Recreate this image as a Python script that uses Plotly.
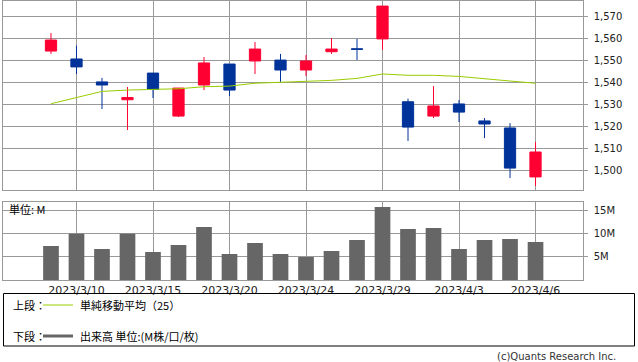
import plotly.graph_objects as go

W, H = 638, 362

dates = ["2023/3/9", "2023/3/10", "2023/3/13", "2023/3/14", "2023/3/15", "2023/3/16",
         "2023/3/17", "2023/3/20", "2023/3/22", "2023/3/23", "2023/3/24", "2023/3/27",
         "2023/3/28", "2023/3/29", "2023/3/30", "2023/3/31", "2023/4/3", "2023/4/4",
         "2023/4/5", "2023/4/6"]
open_ = [1554.1, 1550.5, 1540.1, 1532.0, 1544.1, 1524.6, 1538.7, 1548.2, 1549.6, 1550.0,
         1545.5, 1553.8, 1555.1, 1559.6, 1531.1, 1524.6, 1530.1, 1522.4, 1519.2, 1497.0]
high = [1562.3, 1556.5, 1541.9, 1537.8, 1544.1, 1537.3, 1551.4, 1548.2, 1558.2, 1552.8,
        1552.3, 1560.0, 1559.6, 1574.5, 1532.5, 1538.2, 1531.9, 1523.7, 1521.4, 1512.8]
low = [1552.8, 1543.7, 1527.8, 1518.3, 1532.8, 1524.2, 1536.4, 1533.7, 1543.7, 1540.1,
       1542.8, 1552.8, 1550.0, 1554.6, 1513.3, 1523.7, 1521.9, 1514.6, 1496.5, 1492.9]
close = [1559.1, 1546.9, 1538.7, 1533.0, 1536.7, 1537.3, 1548.7, 1536.4, 1555.0, 1545.5,
         1549.6, 1555.0, 1554.9, 1574.5, 1519.6, 1529.2, 1526.4, 1521.0, 1501.0, 1508.3]
sma25 = [1530.2, 1533.1, 1535.8, 1536.4, 1536.7, 1537.0, 1537.9, 1538.2, 1539.5, 1539.9,
         1540.4, 1540.8, 1541.7, 1543.7, 1543.1, 1543.1, 1542.6, 1541.7, 1540.5, 1539.5]
volume = [7.37e6, 10.0e6, 6.72e6, 10.0e6, 6.08e6, 7.59e6, 11.47e6, 5.65e6, 8.02e6, 5.65e6,
          5.0e6, 6.29e6, 8.66e6, 15.78e6, 11.03e6, 11.25e6, 6.72e6, 8.66e6, 8.88e6, 8.23e6]

tick_dates = ["2023/3/10", "2023/3/15", "2023/3/20", "2023/3/24", "2023/3/29", "2023/4/3", "2023/4/6"]
price_ticks = [1500, 1510, 1520, 1530, 1540, 1550, 1560, 1570]
vol_ticks = [5e6, 10e6, 15e6]
vol_labels = ["5M", "10M", "15M"]

RED = "#FF0033"
BLUE = "#003399"
GREEN = "#99CC00"
GRID = "#999999"
BARC = "#666666"
FONT = "DejaVu Sans"
JFONT = "Noto Sans CJK JP"


def px(x):
    return x / W


def py(y):
    return 1 - y / H


fig = go.Figure()
fig.add_trace(go.Candlestick(
    x=dates, open=open_, high=high, low=low, close=close,
    increasing=dict(line=dict(color=RED, width=1), fillcolor=RED),
    decreasing=dict(line=dict(color=BLUE, width=1), fillcolor=BLUE),
    whiskerwidth=0, xaxis="x", yaxis="y", showlegend=False, hoverinfo="skip"))
fig.add_trace(go.Scatter(
    x=dates, y=sma25, mode="lines", line=dict(color=GREEN, width=1),
    xaxis="x", yaxis="y", showlegend=False, hoverinfo="skip"))
fig.add_trace(go.Bar(
    x=dates, y=volume, marker=dict(color=BARC, line=dict(width=0)),
    xaxis="x2", yaxis="y2", showlegend=False, hoverinfo="skip"))

xrange = [-1.87, 20.85]
common_x = dict(type="category", range=xrange, tickvals=tick_dates, ticktext=tick_dates,
                showgrid=True, gridcolor=GRID, gridwidth=1, showline=True, linecolor=GRID,
                linewidth=1, mirror=True, ticks="", zeroline=False,
                domain=[px(3.3), px(582.7)], fixedrange=True)

common_y = dict(side="right", showgrid=True, gridcolor=GRID, showline=True, linecolor=GRID,
                mirror=True, ticks="outside", ticklen=4, tickcolor=GRID, tickwidth=1,
                zeroline=False, ticklabelstandoff=4,
                tickfont=dict(family=FONT, size=10, color="#222222"), fixedrange=True)

fig.update_layout(
    width=W, height=H, margin=dict(l=0, r=0, t=0, b=0),
    paper_bgcolor="white", plot_bgcolor="white",
    boxgap=0.37, bargap=0.385,
    xaxis=dict(common_x, anchor="y", showticklabels=False, rangeslider=dict(visible=False)),
    xaxis2=dict(common_x, anchor="y2", matches="x", showticklabels=True,
                tickfont=dict(family=FONT, size=11, color="#222222")),
    yaxis=dict(common_y, domain=[py(190.3), py(0.5)], range=[1490.93, 1577.03],
               tickvals=price_ticks, tickformat=",", anchor="x"),
    yaxis2=dict(common_y, domain=[py(280.2), py(201.7)], range=[0, 16.9e6],
                tickvals=vol_ticks, ticktext=vol_labels, anchor="x2"),
    showlegend=False,
)

shapes = [
    dict(type="rect", xref="paper", yref="paper", x0=px(3.5), x1=px(634.5), y0=py(346), y1=py(293.5),
         line=dict(color="#000000", width=1), fillcolor="rgba(0,0,0,0)"),
    dict(type="line", xref="paper", yref="paper", x0=px(43), x1=px(73), y0=py(305), y1=py(305),
         line=dict(color=GREEN, width=1)),
    dict(type="line", xref="paper", yref="paper", x0=px(43), x1=px(73), y0=py(336), y1=py(336),
         line=dict(color=BARC, width=3)),
]
fig.update_layout(shapes=shapes)

anns = [
    dict(text="単位: M", x=px(7), y=py(209), xanchor="left", yanchor="middle",
         font=dict(family=JFONT, size=11, color="#000000")),
    dict(text="上段：", x=px(11), y=py(305), xanchor="left", yanchor="middle",
         font=dict(family=JFONT, size=11, color="#000000")),
    dict(text="単純移動平均（25）", x=px(78), y=py(305), xanchor="left", yanchor="middle",
         font=dict(family=JFONT, size=11, color="#000000")),
    dict(text="下段：", x=px(11), y=py(336), xanchor="left", yanchor="middle",
         font=dict(family=JFONT, size=11, color="#000000")),
    dict(text="出来高 単位:(M株/口/枚)", x=px(78), y=py(336), xanchor="left", yanchor="middle",
         font=dict(family=JFONT, size=11, color="#000000")),
    dict(text="(c)Quants Research Inc.", x=px(618), y=py(356), xanchor="right", yanchor="middle",
         font=dict(family=FONT, size=10, color="#333333")),
]
for a in anns:
    a.update(xref="paper", yref="paper", showarrow=False)
fig.update_layout(annotations=anns)

fig.write_html("out.html")
